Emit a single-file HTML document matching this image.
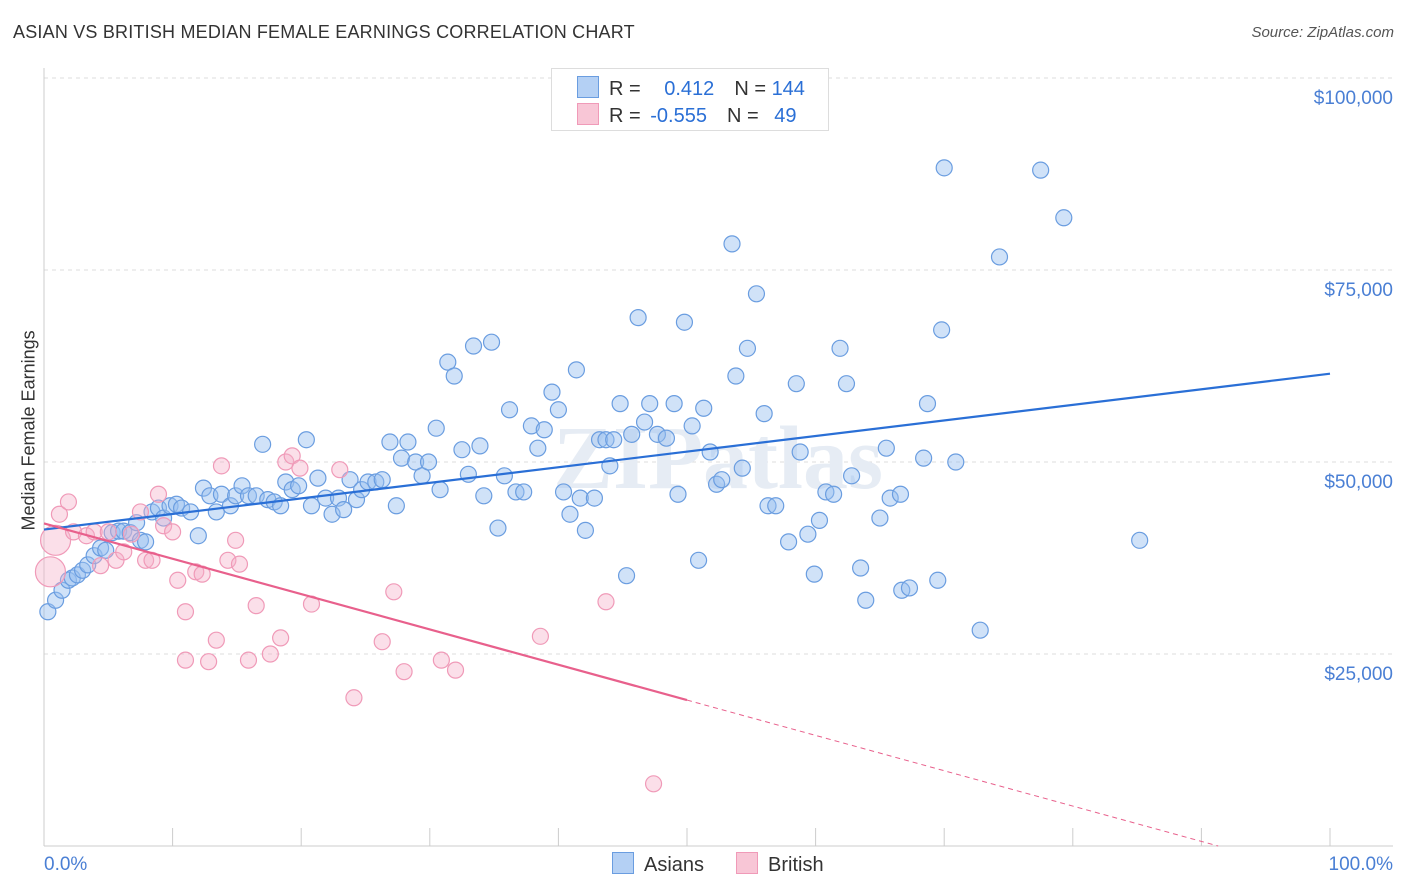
<!DOCTYPE html>
<html><head><meta charset="utf-8">
<style>
body{margin:0;background:#fff;font-family:"Liberation Sans",sans-serif;}
#wrap{position:relative;width:1406px;height:892px;overflow:hidden;}
.t{position:absolute;white-space:nowrap;}
</style></head>
<body>
<div id="wrap">
<div class="t" style="left:13px;top:22px;font-size:18px;color:#333;letter-spacing:0.2px">ASIAN VS BRITISH MEDIAN FEMALE EARNINGS CORRELATION CHART</div>
<div class="t" style="right:12px;top:24px;font-size:15px;color:#555;font-style:italic">Source: ZipAtlas.com</div>
<div class="t" style="left:-46px;top:445px;font-size:18px;color:#333;transform:rotate(-90deg);transform-origin:center;width:150px;text-align:center">Median Female Earnings</div>
<svg id="svg" width="1406" height="892" style="position:absolute;left:0;top:0"></svg>
</div>
<script>
const yTicks=[25000,50000,75000,100000];
const yTickLabels=["$25,000","$50,000","$75,000","$100,000"];
const xTickLabels=["0.0%","100.0%"];
const asianX=[0.3,0.9,1.4,1.9,2.2,2.6,3.0,3.4,3.9,4.4,4.8,5.3,5.8,6.2,6.7,7.2,7.5,7.9,8.4,8.9,9.3,9.8,10.3,10.7,11.4,12.0,12.4,12.9,13.4,13.8,14.5,14.9,15.4,15.9,16.5,17.0,17.4,17.9,18.4,18.8,19.3,19.8,20.4,20.8,21.3,21.9,22.4,22.9,23.3,23.8,24.3,24.7,25.2,25.8,26.3,26.9,27.4,27.8,28.3,28.9,29.4,29.9,30.5,30.8,31.4,31.9,32.5,33.0,33.4,33.9,34.2,34.8,35.3,35.8,36.2,36.7,37.3,37.9,38.4,38.9,39.5,40.0,40.4,40.9,41.4,41.7,42.1,42.8,43.2,43.7,44.0,44.3,44.8,45.3,45.7,46.2,46.7,47.1,47.7,48.4,49.0,49.3,49.8,50.4,50.9,51.3,51.8,52.3,52.7,53.5,53.8,54.3,54.7,55.4,56.0,56.3,56.9,57.9,58.5,58.8,59.4,59.9,60.3,60.8,61.4,61.9,62.4,62.8,63.5,63.9,65.0,65.5,65.8,66.6,66.7,67.3,68.4,68.7,69.5,70.0,69.8,70.9,72.8,74.3,77.5,79.3,85.2];
const asianY=[30.5,32.0,33.3,34.6,34.9,35.3,35.9,36.6,37.8,38.8,38.5,40.8,41.0,41.0,40.8,42.1,39.8,39.6,43.5,44.0,42.7,44.3,44.5,44.0,43.5,40.4,46.6,45.6,43.5,45.8,44.3,45.6,46.9,45.6,45.6,52.3,45.1,44.8,44.3,47.4,46.4,46.9,52.9,44.3,47.9,45.3,43.2,45.3,43.8,47.7,45.1,46.4,47.4,47.4,47.7,52.6,44.3,50.5,52.6,50.0,48.2,50.0,54.4,46.4,63.0,61.2,51.6,48.4,65.1,52.1,45.6,65.6,41.4,48.2,56.8,46.1,46.1,54.7,51.8,54.2,59.1,56.8,46.1,43.2,62.0,45.3,41.1,45.3,52.9,52.9,49.5,52.9,57.6,35.2,53.6,68.8,55.2,57.6,53.6,53.1,57.6,45.8,68.2,54.7,37.2,57.0,51.3,47.1,47.7,78.4,61.2,49.2,64.8,71.9,56.3,44.3,44.3,39.6,60.2,51.3,40.6,35.4,42.4,46.1,45.8,64.8,60.2,48.2,36.2,32.0,42.7,51.8,45.3,45.8,33.3,33.6,50.5,57.6,34.6,88.3,67.2,50.0,28.1,76.7,88.0,81.8,39.8];
const britX=[0.5,0.9,1.2,1.9,2.3,3.3,3.9,4.4,5.0,5.6,6.2,6.8,7.5,7.9,8.4,8.9,9.3,10.0,10.4,11.0,11.0,11.8,12.3,12.8,13.4,13.8,14.3,14.9,15.2,15.9,16.5,17.6,18.4,18.8,19.3,19.9,20.8,23.0,24.1,26.3,27.2,28.0,30.9,32.0,38.6,43.7,47.4];
const britY=[35.7,39.8,43.2,44.8,40.9,40.4,40.9,36.5,40.9,37.2,38.3,40.6,43.5,37.2,37.2,45.8,41.7,40.9,34.6,30.5,24.2,35.7,35.4,24.0,26.8,49.5,37.2,39.8,36.7,24.2,31.3,25.0,27.1,50.0,50.8,49.2,31.5,49.0,19.3,26.6,33.1,22.7,24.2,22.9,27.3,31.8,8.1];
const britBig=[0,1];
const asianTrend=[41.2,61.5];
const britTrend=[42.0,19.0]; // value at 0% and 50%

const X0=44,X1=1330,Y0=846,PXK=7.68;
const sx=p=>X0+(X1-X0)*p/100;
const sy=k=>Y0-k*PXK;
const svg=document.getElementById('svg');
const NS='http://www.w3.org/2000/svg';
function mk(tag,attrs){const e=document.createElementNS(NS,tag);for(const k in attrs)e.setAttribute(k,attrs[k]);svg.appendChild(e);return e;}

// gridlines & y labels
yTicks.forEach((v,i)=>{
  const y=sy(v/1000);
  const g=mk('line',{x1:X0,x2:1393,y1:y,y2:y,stroke:'#dcdcdc','stroke-dasharray':'4,4'});
  
  
  const t=mk('text',{x:1393,y:y+26,'text-anchor':'end','font-size':19,fill:'#4a7fd4','font-family':'Liberation Sans,sans-serif'});
  t.textContent=yTickLabels[i];
  
  
});
// axes
const ax=mk('line',{x1:X0,x2:X0,y1:68,y2:Y0,stroke:'#ccc'});


const bx=mk('line',{x1:X0,x2:1393,y1:Y0,y2:Y0,stroke:'#ccc'});


for(let i=1;i<=10;i++){
  const x=sx(i*10);
  const tk=mk('line',{x1:x,x2:x,y1:828,y2:Y0,stroke:'#ccc'});
  
  
}
const xl0=mk('text',{x:44,y:870,'font-size':19,fill:'#4a7fd4','font-family':'Liberation Sans,sans-serif'});
xl0.textContent=xTickLabels[0];


const xl1=mk('text',{x:1393,y:870,'text-anchor':'end','font-size':19,fill:'#4a7fd4','font-family':'Liberation Sans,sans-serif'});
xl1.textContent=xTickLabels[1];



// watermark
const wm=mk('text',{x:718,y:488,'text-anchor':'middle','font-size':90,fill:'#e6ecf4','font-family':'Liberation Serif,serif','font-weight':'bold'});
wm.textContent='ZIPatlas';



// points
asianX.forEach((p,i)=>{
  const c=mk('circle',{cx:sx(p),cy:sy(asianY[i]),r:8,fill:'rgba(150,190,240,0.45)',stroke:'#6a9de0','stroke-width':1.2});
  
  
});
britX.forEach((p,i)=>{
  const big=britBig.includes(i);
  const c=mk('circle',{cx:sx(p),cy:sy(britY[i]),r:big?15:8,fill:'rgba(245,175,200,0.4)',stroke:'#f09ab8','stroke-width':1.2});
  
  
});
// trend lines
const al=mk('line',{x1:sx(0),y1:sy(asianTrend[0]),x2:sx(100),y2:sy(asianTrend[1]),stroke:'#2a6fd6','stroke-width':2.2});


const slope=(britTrend[1]-britTrend[0])/50;
const zeroP=-britTrend[0]/slope;
const pl=mk('line',{x1:sx(0),y1:sy(britTrend[0]),x2:sx(50),y2:sy(britTrend[1]),stroke:'#e8608c','stroke-width':2.2});


const pd=mk('line',{x1:sx(50),y1:sy(britTrend[1]),x2:sx(zeroP),y2:sy(0),stroke:'#e8608c','stroke-width':1,'stroke-dasharray':'5,4'});


</script>

<div class="t" style="left:551px;top:68px;width:276px;height:61px;border:1px solid #ddd;background:#fff;font-size:20px">
  <div style="position:absolute;left:25px;top:7px;color:#333">
    <span style="display:inline-block;width:20px;height:20px;background:#b4d0f4;border:1px solid #6a9de0;vertical-align:-3px;margin-right:10px"></span>R = <span style="color:#2a6fd6;margin-left:18px">0.412</span><span style="margin-left:20px">N = </span><span style="color:#2a6fd6">144</span>
  </div>
  <div style="position:absolute;left:25px;top:34px;color:#333">
    <span style="display:inline-block;width:20px;height:20px;background:#f8c6d6;border:1px solid #f09ab8;vertical-align:-3px;margin-right:10px"></span>R = <span style="color:#2a6fd6;margin-left:4px">-0.555</span><span style="margin-left:20px">N = </span><span style="color:#2a6fd6;margin-left:10px">49</span>
  </div>
</div>
<div class="t" style="left:612px;top:852px;font-size:20px;color:#333"><span style="display:inline-block;width:20px;height:20px;background:#b4d0f4;border:1px solid #6a9de0;vertical-align:-3px;margin-right:10px"></span>Asians</div>
<div class="t" style="left:736px;top:852px;font-size:20px;color:#333"><span style="display:inline-block;width:20px;height:20px;background:#f8c6d6;border:1px solid #f09ab8;vertical-align:-3px;margin-right:10px"></span>British</div>
</body></html>
